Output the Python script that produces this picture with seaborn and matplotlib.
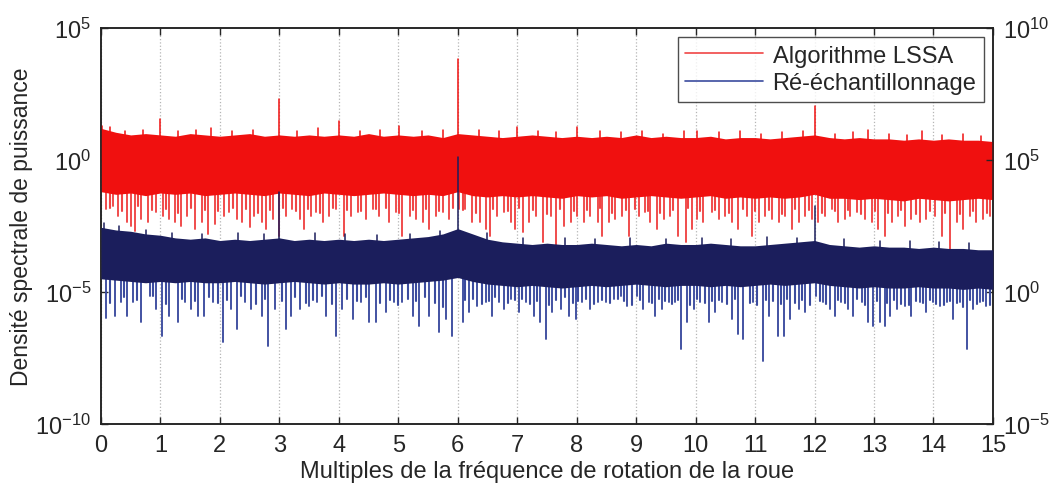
import numpy as np
import pandas as pd
import matplotlib
matplotlib.use("Agg")
import matplotlib.pyplot as plt
from matplotlib.lines import Line2D
import seaborn as sns

# --- valeurs (log10) ---
env_x = [i * 0.25 for i in range(61)]

# LSSA (axe gauche) : bords de la bande dense
lssa_top = [1.20, 1.05, 0.95, 1.00, 0.95, 0.90, 1.00, 0.95, 0.90, 0.95,
            1.00, 0.90, 0.95, 0.90, 0.95, 0.90, 0.95, 0.90, 1.00, 0.90,
            0.95, 0.90, 0.95, 0.85, 1.00, 0.95, 0.90, 0.85, 0.90, 0.95,
            0.90, 0.85, 0.90, 0.85, 0.90, 0.85, 0.95, 0.85, 0.90, 0.85,
            0.85, 0.90, 0.80, 0.85, 0.85, 0.80, 0.85, 0.90, 0.95, 0.85,
            0.80, 0.85, 0.80, 0.80, 0.75, 0.80, 0.75, 0.80, 0.75, 0.75, 0.70]
lssa_bot = [-1.20, -1.30, -1.25, -1.35, -1.25, -1.30, -1.25, -1.35, -1.30, -1.25,
            -1.30, -1.35, -1.25, -1.30, -1.35, -1.25, -1.30, -1.35, -1.30, -1.25,
            -1.30, -1.35, -1.30, -1.35, -1.20, -1.35, -1.40, -1.35, -1.40, -1.35,
            -1.40, -1.45, -1.35, -1.40, -1.35, -1.45, -1.40, -1.35, -1.40, -1.45,
            -1.40, -1.35, -1.45, -1.40, -1.45, -1.40, -1.45, -1.40, -1.30, -1.45,
            -1.45, -1.50, -1.45, -1.50, -1.55, -1.45, -1.50, -1.55, -1.50, -1.45, -1.50]

# LSSA : creux longs
lssa_dip_x = [0.09, 0.20, 0.29, 0.43, 0.51, 0.58, 0.68, 0.79, 0.93, 1.04, 1.15, 1.25, 1.35, 1.45, 1.58, 1.70,
              1.80, 1.92, 2.07, 2.16, 2.28, 2.37, 2.50, 2.58, 2.70, 2.78, 2.89,
              3.00, 3.11, 3.22, 3.34, 3.42, 3.53, 3.62, 3.73, 3.84, 3.95, 4.09, 4.20, 4.32, 4.46, 4.57, 4.68,
              4.85, 4.96, 5.07, 5.19, 5.30, 5.41, 5.52, 5.63, 5.75, 5.86,
              6.02, 6.13, 6.24, 6.38, 6.47, 6.55, 6.66, 6.78, 6.89, 6.97, 7.09, 7.20, 7.31, 7.44, 7.56, 7.65,
              7.79, 7.90, 8.01, 8.12, 8.23, 8.35, 8.43, 8.54, 8.65, 8.77, 8.88,
              9.04, 9.15, 9.24, 9.35, 9.46, 9.57, 9.71, 9.83, 9.94, 10.02, 10.13, 10.27, 10.39, 10.50, 10.61,
              10.72, 10.86, 10.95, 11.06, 11.17, 11.28, 11.40, 11.51, 11.62, 11.73, 11.84, 11.96,
              12.06, 12.17, 12.29, 12.40, 12.51, 12.59, 12.71, 12.85, 12.96, 13.07, 13.18, 13.30, 13.41, 13.52,
              13.63, 13.77, 13.88, 14.02, 14.14, 14.28, 14.39, 14.50, 14.61, 14.72, 14.84, 14.95]
lssa_dip_v = [-1.86, -1.73, -2.11, -2.36, -2.49, -2.68, -2.23, -2.36, -1.98, -2.11, -2.23, -2.36, -2.49, -2.11,
              -2.61, -2.36, -2.80, -2.42, -2.11, -1.98, -2.23, -2.36, -2.55, -2.11, -2.36, -2.61, -2.23,
              -2.87, -2.11, -1.86, -2.23, -2.61, -2.11, -1.98, -2.36, -2.11, -1.86, -2.87, -2.11, -1.98, -2.23,
              -1.86, -2.11, -2.36, -1.98, -2.87, -2.11, -2.23, -2.36, -2.61, -2.11, -1.98, -2.23,
              -1.86, -1.86, -2.36, -2.36, -2.61, -2.87, -2.11, -1.98, -2.36, -2.61, -2.74, -2.36, -2.11, -3.12,
              -2.11, -3.25, -2.49, -2.36, -2.11, -2.36, -2.11, -2.36, -2.87, -2.36, -2.23, -2.11, -2.87,
              -2.11, -1.98, -2.36, -2.61, -2.23, -2.11, -2.87, -3.12, -2.61, -2.23, -2.36, -1.98, -2.23, -2.11,
              -2.36, -2.61, -2.11, -2.87, -2.36, -2.11, -2.23, -2.36, -2.11, -2.61, -2.36, -2.11, -2.23,
              -2.36, -2.11, -1.86, -2.36, -2.23, -2.11, -1.98, -2.23, -2.36, -2.61, -2.87, -2.36, -2.11, -2.49,
              -2.23, -2.36, -2.23, -2.11, -2.87, -3.50, -2.36, -2.61, -2.11, -2.36, -2.23, -2.11]

# LSSA : creux courts (bord inférieur dentelé)
lssa_short_x = [0.15, 0.36, 0.63, 0.86, 1.10, 1.30, 1.52, 1.75, 1.97, 2.22, 2.44, 2.64, 2.84, 3.06, 3.28,
                3.48, 3.68, 3.90, 4.14, 4.38, 4.62, 4.80, 5.02, 5.24, 5.46, 5.69, 5.92, 6.08, 6.31, 6.60,
                6.84, 7.03, 7.26, 7.50, 7.72, 7.96, 8.18, 8.40, 8.60, 8.83, 8.98, 9.20, 9.40, 9.62, 9.88,
                10.08, 10.33, 10.56, 10.80, 11.00, 11.23, 11.45, 11.67, 11.90, 12.12, 12.35, 12.56, 12.78,
                13.01, 13.24, 13.46, 13.70, 13.94, 14.20, 14.44, 14.67, 14.90]
lssa_short_v = [-1.80, -1.95, -1.75, -1.90, -1.85, -2.00, -1.80, -1.90, -1.95, -1.80, -1.85, -2.00, -1.90,
                -1.80, -1.95, -1.85, -2.00, -1.80, -1.90, -1.95, -1.85, -1.80, -2.00, -1.90, -1.85, -1.95,
                -1.80, -1.90, -2.00, -1.85, -1.95, -1.80, -1.90, -2.05, -1.85, -1.95, -1.90, -1.80, -2.00,
                -1.90, -1.85, -1.95, -2.00, -1.90, -1.80, -1.95, -1.90, -2.00, -1.85, -1.95, -1.90, -2.05,
                -1.85, -1.90, -2.00, -1.95, -1.90, -2.05, -1.95, -2.00, -1.90, -2.05, -1.95, -2.00, -2.05,
                -1.95, -2.00]

# LSSA : pics (dents hautes incluses)
lssa_peak_x = [0.02, 0.15, 0.40, 0.70, 1.00, 1.30, 1.60, 1.85, 2.20, 2.55, 3.00, 3.30, 3.65, 4.00, 4.35, 4.70,
               5.02, 5.40, 5.75, 6.00, 6.35, 6.70, 7.00, 7.35, 7.65, 8.01, 8.40, 8.75, 9.10, 9.45, 9.80,
               10.02, 10.40, 10.75, 11.10, 11.45, 11.80, 12.00, 12.35, 12.65, 12.90, 13.25, 13.55, 13.80,
               14.15, 14.50, 14.80]
lssa_peak_v = [1.30, 1.25, 1.10, 1.15, 1.55, 1.10, 1.15, 1.20, 1.10, 1.15, 2.31, 1.10, 1.20, 1.49, 1.10, 1.15,
               1.30, 1.10, 1.15, 3.83, 1.15, 1.10, 1.25, 1.10, 1.05, 1.25, 1.10, 1.05, 1.10, 1.00, 1.10,
               1.11, 1.05, 1.10, 1.00, 1.05, 1.10, 2.06, 1.00, 1.05, 1.15, 1.00, 0.95, 1.10,
               0.95, 1.00, 0.90]

# Ré-échantillonnage (axe droit) : bords de la bande dense
resamp_top = [2.45, 2.35, 2.30, 2.20, 2.15, 2.05, 2.00, 2.05, 1.95, 2.00,
              1.95, 2.00, 2.05, 1.95, 2.00, 1.95, 2.00, 1.95, 2.00, 1.95,
              2.00, 2.05, 2.10, 2.20, 2.40, 2.20, 2.00, 1.90, 1.85, 1.80,
              1.85, 1.80, 1.80, 1.85, 1.80, 1.75, 1.80, 1.75, 1.85, 1.80,
              1.80, 1.85, 1.80, 1.75, 1.75, 1.80, 1.85, 1.90, 1.95, 1.80,
              1.75, 1.70, 1.75, 1.70, 1.70, 1.65, 1.70, 1.65, 1.65, 1.60, 1.60]
resamp_bot = [0.50, 0.45, 0.40, 0.35, 0.40, 0.35, 0.40, 0.35, 0.35, 0.40,
              0.35, 0.30, 0.35, 0.40, 0.35, 0.30, 0.35, 0.30, 0.30, 0.35,
              0.30, 0.35, 0.40, 0.45, 0.55, 0.40, 0.30, 0.25, 0.20, 0.25,
              0.20, 0.15, 0.20, 0.25, 0.20, 0.25, 0.30, 0.25, 0.20, 0.25,
              0.25, 0.20, 0.25, 0.20, 0.25, 0.30, 0.25, 0.30, 0.35, 0.25,
              0.20, 0.15, 0.20, 0.15, 0.15, 0.20, 0.15, 0.15, 0.10, 0.15, 0.10]

resamp_dip_x = [0.09, 0.23, 0.34, 0.43, 0.54, 0.68, 0.82, 0.93, 1.03, 1.15, 1.30, 1.42, 1.52, 1.63, 1.74,
                1.88, 2.05, 2.19, 2.28, 2.42, 2.53, 2.70, 2.81, 2.92,
                3.11, 3.20, 3.34, 3.50, 3.64, 3.78, 3.95, 4.06, 4.23, 4.37, 4.51, 4.62, 4.79, 4.93, 5.07,
                5.24, 5.35, 5.52, 5.69, 5.80, 5.91,
                6.08, 6.19, 6.33, 6.47, 6.58, 6.69, 6.78, 6.89, 7.03, 7.14, 7.28, 7.39, 7.48, 7.59, 7.73,
                7.87, 7.98, 8.09, 8.23, 8.35, 8.49, 8.63, 8.74, 8.85,
                9.01, 9.12, 9.21, 9.32, 9.43, 9.55, 9.66, 9.76, 9.85, 9.97, 10.08, 10.22, 10.33, 10.44,
                10.61, 10.72, 10.80, 10.97, 11.13, 11.23, 11.39, 11.48, 11.59, 11.73, 11.84,
                12.03, 12.15, 12.26, 12.34, 12.45, 12.57, 12.65, 12.79, 12.90, 12.99, 13.10, 13.18, 13.27,
                13.38, 13.52, 13.63, 13.77, 13.88, 13.99, 14.11, 14.22, 14.33, 14.44, 14.56, 14.67, 14.78, 14.89]
resamp_dip_v = [-1.00, -0.90, -0.39, -0.90, -0.39, -1.15, -0.14, -0.64, -1.66, -0.90, -1.15, -0.39, -0.64,
                -0.90, -0.90, -0.39, -1.91, -0.64, -1.40, -0.39, -0.64, -0.90, -2.03, -0.64,
                -1.40, -0.90, -0.64, -0.52, -0.39, -0.90, -1.66, -0.64, -1.02, -0.39, -1.15, -1.15, -0.77,
                -0.39, -0.39, -0.90, -1.28, -0.90, -1.53, -1.02, -1.66,
                -1.15, -0.77, -0.52, -0.39, -0.90, -0.39, -0.64, -0.27, -0.77, -0.39, -0.90, -1.15, -1.78,
                -0.77, -0.64, -0.90, -1.02, -0.39, -0.64, -0.39, -0.39, -0.27, -0.14, -0.52,
                -0.14, -0.64, -0.39, -0.90, -0.64, -0.39, -0.39, -2.16, -1.15, -0.64, -0.39, -1.15, -0.77,
                -0.39, -1.02, -1.60, -1.78, -0.39, -2.60, -0.90, -1.66, -1.66, -1.02, -0.64, -0.77,
                -0.14, -0.39, -0.64, -0.90, -0.39, -0.64, -0.90, -0.39, -1.15, -1.28, -1.15, -1.28, -0.90,
                -0.64, -0.52, -0.90, -0.39, -0.77, -0.39, -0.52, -0.39, -1.02, -0.39, -2.16, -0.64, -0.39, -0.52]

resamp_short_x = [0.16, 0.38, 0.60, 0.88, 1.09, 1.36, 1.58, 1.81, 1.97, 2.12, 2.36, 2.60, 2.76, 3.04, 3.27,
                  3.44, 3.57, 3.71, 3.88, 4.13, 4.30, 4.45, 4.70, 4.86, 5.00, 5.16, 5.30, 5.45, 5.62, 5.75,
                  6.13, 6.26, 6.40, 6.52, 6.63, 6.84, 6.96, 7.08, 7.22, 7.34, 7.54, 7.66, 7.80, 7.93, 8.03,
                  8.16, 8.29, 8.42, 8.56, 8.69, 8.80, 8.93, 9.06, 9.27, 9.38, 9.49, 9.61, 9.71, 9.91, 10.03,
                  10.15, 10.28, 10.39, 10.52, 10.66, 10.91, 11.04, 11.18, 11.30, 11.44, 11.54, 11.67, 11.79,
                  11.92, 12.09, 12.20, 12.40, 12.51, 12.72, 12.84, 13.05, 13.22, 13.33, 13.45, 13.58, 13.70,
                  13.82, 13.94, 14.05, 14.17, 14.28, 14.39, 14.50, 14.62, 14.73, 14.84, 14.95]
resamp_short_v = [-0.40, -0.20, -0.30, -0.15, -0.45, -0.25, -0.35, -0.20, -0.40, -0.30, -0.15, -0.45, -0.25,
                  -0.35, -0.20, -0.40, -0.30, -0.15, -0.45, -0.25, -0.35, -0.20, -0.40, -0.30, -0.50, -0.25,
                  -0.35, -0.20, -0.40, -0.55, -0.30, -0.25, -0.45, -0.35, -0.20, -0.40, -0.30, -0.25, -0.45,
                  -0.35, -0.50, -0.30, -0.20, -0.40, -0.35, -0.25, -0.45, -0.30, -0.40, -0.25, -0.35, -0.50,
                  -0.30, -0.40, -0.25, -0.35, -0.45, -0.30, -0.50, -0.25, -0.40, -0.35, -0.30, -0.45, -0.25,
                  -0.40, -0.50, -0.30, -0.35, -0.45, -0.25, -0.40, -0.30, -0.50, -0.35, -0.45, -0.30, -0.40,
                  -0.25, -0.50, -0.35, -0.40, -0.30, -0.45, -0.50, -0.35, -0.40, -0.30, -0.45, -0.50, -0.35,
                  -0.40, -0.55, -0.30, -0.45, -0.35, -0.50]

resamp_peak_x = [0.05, 0.30, 0.75, 1.20, 1.70, 2.30, 2.75, 3.00, 3.60, 4.10, 4.65, 5.20, 5.70, 6.00, 6.50,
                 7.10, 7.80, 8.30, 8.90, 9.50, 10.10, 10.60, 11.20, 11.70, 12.00, 12.50, 13.10, 13.60,
                 14.10, 14.60]
resamp_peak_v = [2.60, 2.50, 2.35, 2.25, 2.20, 2.25, 2.20, 3.80, 2.25, 2.20, 2.15, 2.20, 2.30, 5.10, 2.25,
                 2.05, 2.05, 2.00, 2.05, 2.00, 2.05, 2.00, 2.10, 2.05, 3.27, 2.00, 1.95, 1.95,
                 1.90, 1.85]

x_ticks = list(range(16))

RED_BAND, RED_LINE = "#f0100f", "#f04545"
BLUE_BAND, BLUE_LINE = "#1b1e5c", "#3b4b9e"


def spikes(xs, vals, base):
    # chaque pic = segment vertical (base -> valeur)
    rows = []
    for i, (x, v) in enumerate(zip(xs, vals)):
        rows.append((i, x, 10.0 ** base))
        rows.append((i, x, 10.0 ** v))
    return pd.DataFrame(rows, columns=["id", "x", "y"])


def draw_series(a, top, bot, dx, dv, sx, sv, px, pv, base, band, line):
    a.fill_between(env_x, 10.0 ** np.array(bot), 10.0 ** np.array(top), color=band, lw=0, zorder=3)
    sns.lineplot(data=spikes(dx, dv, base), x="x", y="y", units="id", estimator=None,
                 color=line, lw=1.35, ax=a, legend=False, zorder=2)
    sns.lineplot(data=spikes(sx, sv, base), x="x", y="y", units="id", estimator=None,
                 color=line, lw=1.5, ax=a, legend=False, zorder=2.5)
    sns.lineplot(data=spikes(px, pv, base), x="x", y="y", units="id", estimator=None,
                 color=band, lw=1.1, ax=a, legend=False, zorder=4)


sns.set_style("ticks")
plt.rcParams["font.family"] = ["Liberation Sans", "DejaVu Sans"]
plt.rcParams["mathtext.fontset"] = "custom"
plt.rcParams["mathtext.rm"] = "Liberation Sans"
plt.rcParams["mathtext.it"] = "Liberation Sans"

fig = plt.figure(figsize=(10.55, 4.85), dpi=100)
ax = fig.add_axes([0.0957, 0.1237, 0.8455, 0.8165])
ax.set_yscale("log")
draw_series(ax, lssa_top, lssa_bot, lssa_dip_x, lssa_dip_v, lssa_short_x, lssa_short_v,
            lssa_peak_x, lssa_peak_v, 0.0, RED_BAND, RED_LINE)
ax.set_xlim(0, 15)
ax.set_ylim(1e-10, 1e5)

ax2 = ax.twinx()
ax2.set_yscale("log")
draw_series(ax2, resamp_top, resamp_bot, resamp_dip_x, resamp_dip_v, resamp_short_x, resamp_short_v,
            resamp_peak_x, resamp_peak_v, 1.0, BLUE_BAND, BLUE_LINE)
ax2.set_xlim(0, 15)
ax2.set_ylim(1e-5, 1e10)
ax2.set_ylabel("")
ax2.set_xlabel("")

# axes / ticks
ax.set_xticks(x_ticks)
ax.set_xticklabels([str(t) for t in x_ticks])
ax.set_yticks([1e-10, 1e-5, 1e0, 1e5])
ax.minorticks_off()
ax2.set_yticks([1e-5, 1e0, 1e5, 1e10])
ax2.minorticks_off()
ax.tick_params(direction="in", top=True, length=5, labelsize=17, width=1, pad=7)
ax2.tick_params(direction="in", length=5, labelsize=17, width=1, pad=7)
ax.grid(axis="x", linestyle=":", color="#b5b5b5", lw=0.9)
ax.set_axisbelow(True)
for a in (ax, ax2):
    for s in a.spines.values():
        s.set_linewidth(1.1)
        s.set_color("#222222")

ax.set_xlabel("Multiples de la fréquence de rotation de la roue", fontsize=17, labelpad=3)
ax.set_ylabel("Densité spectrale de puissance", fontsize=16.5, labelpad=2)

handles = [Line2D([], [], color=RED_LINE, lw=1.2), Line2D([], [], color=BLUE_LINE, lw=1.2)]
leg = ax2.legend(handles, ["Algorithme LSSA", "Ré-échantillonnage"], loc="upper right",
                 fontsize=17, frameon=True, fancybox=False, handlelength=3.3,
                 borderpad=0.3, labelspacing=0.25, handletextpad=0.4, borderaxespad=0.4)
leg.get_frame().set_edgecolor("#222222")
leg.get_frame().set_linewidth(1.0)

fig.savefig("out.png", dpi=100)
